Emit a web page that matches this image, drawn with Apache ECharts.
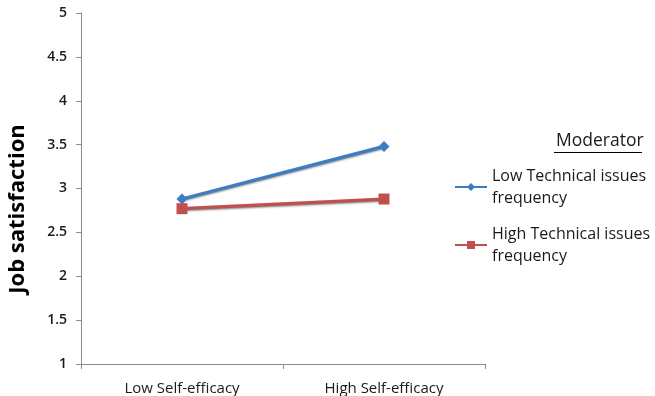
<!DOCTYPE html>
<html><head><meta charset="utf-8">
<script src="https://cdn.jsdelivr.net/npm/echarts@6/dist/echarts.min.js"></script>
<style>html,body{margin:0;padding:0;background:#fff}#c{width:655px;height:396px}</style>
</head><body><div id="c"></div>
<script>
const categories = ['Low Self-efficacy', 'High Self-efficacy'];
const lowTechIssues = [2.88, 3.48];
const highTechIssues = [2.77, 2.88];
const seriesNames = ['Low Technical issues\nfrequency', 'High Technical issues\nfrequency'];
const yTicks = [1, 1.5, 2, 2.5, 3, 3.5, 4, 4.5, 5];
const yTitle = 'Job satisfaction';
const legendTitle = 'Moderator';

const font = 'Open Sans';
const chart = echarts.init(document.getElementById('c'));
chart.setOption({
  animation: false,
  grid: {left: 81, right: 170, top: 13, bottom: 31},
  xAxis: {
    type: 'category', data: categories, boundaryGap: true,
    axisLine: {lineStyle: {color: '#8c8c8c', width: 1}},
    axisTick: {show: true, length: 5, lineStyle: {color: '#8c8c8c'}},
    axisLabel: {color: '#1a1a1a', fontFamily: font, fontSize: 15, margin: 17}
  },
  yAxis: {
    type: 'value', min: 1, max: 5, interval: 0.5,
    axisLine: {show: true, lineStyle: {color: '#8c8c8c', width: 1}},
    axisTick: {show: true, length: 5, inside: false, lineStyle: {color: '#8c8c8c'}},
    splitLine: {show: false},
    axisLabel: {color: '#1a1a1a', fontFamily: font, fontSize: 14, fontWeight: 600, margin: 14,
      formatter: v => yTicks.includes(v) ? String(v) : ''}
  },
  legend: {
    orient: 'vertical', left: 449, top: 160, itemGap: 14,
    itemWidth: 32, itemHeight: 10,
    textStyle: {fontFamily: font, fontSize: 16, color: '#1a1a1a', lineHeight: 22},
    data: seriesNames
  },
  graphic: [
    {type: 'text', x: 18, y: 209, rotation: Math.PI / 2,
     style: {text: yTitle, font: 'bold 22px "Open Sans"', fill: '#000', textAlign: 'center', textVerticalAlign: 'middle'}},
    {type: 'text', left: 556, top: 132, style: {text: legendTitle, font: '17.5px "Open Sans"', fill: '#1a1a1a'}},
    {type: 'line', shape: {x1: 554, y1: 152.5, x2: 642, y2: 152.5}, style: {stroke: '#000', lineWidth: 1}}
  ],
  series: [
    {name: seriesNames[0], type: 'line', data: lowTechIssues,
     symbol: 'diamond', symbolSize: 11,
     lineStyle: {color: '#3a7dc4', width: 3.2, shadowColor: 'rgba(0,0,0,0.5)', shadowBlur: 2, shadowOffsetY: 1},
     itemStyle: {color: '#3a7dc4'}},
    {name: seriesNames[1], type: 'line', data: highTechIssues,
     symbol: 'rect', symbolSize: 11,
     lineStyle: {color: '#c0504d', width: 3.2, shadowColor: 'rgba(0,0,0,0.5)', shadowBlur: 2, shadowOffsetY: 1},
     itemStyle: {color: '#c0504d'}}
  ]
});
</script></body></html>
